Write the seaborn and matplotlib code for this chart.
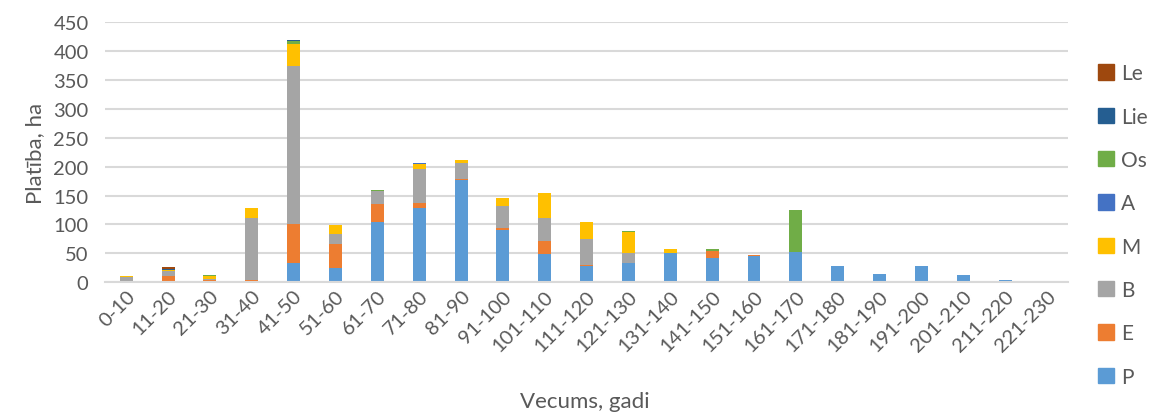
import numpy as np
import pandas as pd
import matplotlib
matplotlib.use("Agg")
import matplotlib.pyplot as plt
import matplotlib.patches as mpatches
import seaborn as sns

ages = ['0-10', '11-20', '21-30', '31-40', '41-50', '51-60', '61-70', '71-80',
        '81-90', '91-100', '101-110', '111-120', '121-130', '131-140', '141-150',
        '151-160', '161-170', '171-180', '181-190', '191-200', '201-210',
        '211-220', '221-230']

# area per species (ha)
P = [0, 0, 0, 0, 34, 24, 104, 128, 176, 91, 48.5, 27.5, 34, 50.8, 42.7,
     46, 52, 28, 13.8, 28.7, 12.6, 3.4, 2.3]
E = [1, 10, 3, 4, 66, 42, 30.5, 8.7, 2.3, 3.5, 23.5, 3, 0, 0, 11.5,
     1.7, 0, 0, 0, 0, 0, 0, 0]
B = [8, 9, 2, 107, 274, 17.3, 22.5, 60, 28.8, 38, 39, 45, 16.7, 0, 0,
     0, 0, 0, 0, 0, 0, 0, 0]
M = [2, 1.5, 6, 17.5, 37.5, 16, 0, 8, 4.6, 12.7, 43, 29, 36, 5.8, 0,
     0, 0, 0, 0, 0, 0, 0, 0]
A = [0, 1, 0, 0, 0, 0, 0, 1.5, 0, 0, 0, 0, 0, 0, 0,
     0, 0, 0, 0, 0, 0, 0, 0]
Os = [0, 0, 1, 0, 6, 0, 3, 0, 0, 0, 0, 0, 2, 0, 2.5,
      0, 73, 0, 0, 0, 0, 0, 0]
Lie = [0, 1, 0, 0, 1.7, 0, 0, 0, 0, 0, 0, 0, 0, 0, 0,
       0, 0, 0, 0, 0, 0, 0, 0]
Le = [0, 3, 0, 0, 0, 0, 0, 0, 0, 0, 0, 0, 0, 0, 0,
      0, 0, 0, 0, 0, 0, 0, 0]

series = {'P': P, 'E': E, 'B': B, 'M': M, 'A': A, 'Os': Os, 'Lie': Lie, 'Le': Le}
colors = {'P': '#5B9BD5', 'E': '#ED7D31', 'B': '#A5A5A5', 'M': '#FFC000',
          'A': '#4472C4', 'Os': '#70AD47', 'Lie': '#255E91', 'Le': '#9E480E'}

sns.set_style("white")
plt.rcParams['font.family'] = ['Lato', 'DejaVu Sans']
text_col = '#595959'

fig = plt.figure(figsize=(11.57, 4.14), dpi=100)
ax = fig.add_axes([0.091, 0.316, 0.832, 0.628])

bottom = np.zeros(len(ages))
for name, vals in series.items():
    df = pd.DataFrame({'Vecums': ages, 'ha': vals})
    sns.barplot(data=df, x='Vecums', y='ha', order=ages, color=colors[name],
                width=0.31, bottom=bottom, ax=ax, saturation=1, linewidth=0)
    bottom = bottom + np.array(vals)

ax.set_ylim(0, 450)
ax.set_xlim(-0.5, len(ages) - 0.5)
ax.set_yticks(range(0, 451, 50))
ax.yaxis.grid(True, color='#D9D9D9', linewidth=1.5)
ax.set_axisbelow(True)
for s in ['top', 'right', 'left']:
    ax.spines[s].set_visible(False)
ax.spines['bottom'].set_color('#D9D9D9')
ax.spines['bottom'].set_linewidth(1.5)
ax.tick_params(axis='both', length=0, labelsize=14.5, colors=text_col)
ax.tick_params(axis='y', pad=12)
plt.setp(ax.get_xticklabels(), rotation=45, ha='right', rotation_mode='anchor')

ax.set_xlabel('')
ax.set_ylabel('Platība, ha', fontsize=16, color=text_col, labelpad=6)
fig.text(585 / 1157, 0.03, 'Vecums, gadi', fontsize=16, color=text_col,
         ha='center', va='center')

handles = [mpatches.Patch(color=colors[n], label=n) for n in ['Le', 'Lie', 'Os', 'A', 'M', 'B', 'E', 'P']]
leg = fig.legend(handles=handles, loc='upper left', bbox_to_anchor=(0.942, 0.865),
                 frameon=False, fontsize=15, labelspacing=1.12, handlelength=0.75,
                 handleheight=0.75, handletextpad=0.35, borderaxespad=0)
for t in leg.get_texts():
    t.set_color(text_col)

fig.savefig('out.png', dpi=100)
